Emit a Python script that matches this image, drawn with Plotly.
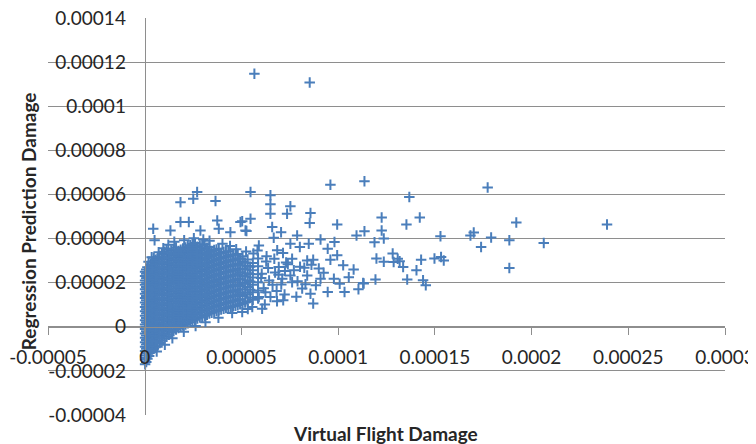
import plotly.graph_objects as go

# Values are in units of 1e-6 (micro-damage); scaled once below.
UNIT = 1e-6

# Dense cluster near the origin, read column by column
blob_col_x = [0.2, 1.4, 3.1, 4.7, 6.6, 8.9, 11.3, 13.7, 16.2, 18.6, 21.1, 23.5, 26.0,
              28.5, 31.0, 33.4, 35.9, 38.3, 40.8, 43.2, 45.7, 48.1, 50.6, 53.2, 55.9, 58.6]
blob_col_y = [
    [-17, -15, -13, -11, -9, -7, -5, -3, -1, 1, 3, 5, 7, 9, 11, 13, 15, 17, 19, 21, 23, 25],
    [-14.5, -12, -9.6, -7.4, -5, -2.7, -0.5, 1.8, 4, 6.3, 8.6, 10.9, 13.2, 15.4, 17.7, 20, 22.3, 24.6, 27],
    [-11.5, -9, -6.8, -4.4, -2, 0.3, 2.5, 4.9, 7.2, 9.6, 12, 14.3, 16.6, 19, 21.2, 23.5, 26, 28.4],
    [-10, -7.6, -5.2, -2.9, -0.6, 1.6, 3.9, 6.2, 8.6, 11, 13.3, 15.5, 17.8, 20.2, 22.5, 24.9, 27.2, 29.6, 31.3],
    [-9, -6.5, -4.1, -1.8, 0.5, 2.8, 5.1, 7.4, 9.7, 12.1, 14.4, 16.8, 19.1, 21.4, 23.7, 26, 28.3, 30.6],
    [-6.2, -3.8, -1.5, 0.9, 3.2, 5.5, 7.8, 10.1, 12.5, 14.8, 17.1, 19.4, 21.8, 24.1, 26.5, 28.8, 31.1, 33],
    [-4.5, -2.1, 0.2, 2.6, 4.9, 7.3, 9.6, 11.9, 14.2, 16.6, 18.9, 21.2, 23.6, 25.9, 28.2, 30.5, 32.8, 35],
    [-2.6, -0.3, 2, 4.4, 6.7, 9, 11.3, 13.7, 16, 18.3, 20.7, 23, 25.3, 27.7, 30, 32.3, 34.6],
    [-1.2, 1.1, 3.5, 5.8, 8.1, 10.4, 12.8, 15.1, 17.4, 19.8, 22.1, 24.4, 26.8, 29.1, 31.4, 33.7, 36],
    [0, 2.3, 4.6, 6.9, 9.3, 11.6, 13.9, 16.3, 18.6, 20.9, 23.3, 25.6, 27.9, 30.2, 32.6, 34.9],
    [1, 3.3, 5.7, 8, 10.3, 12.7, 15, 17.3, 19.6, 22, 24.3, 26.6, 29, 31.3, 33.6, 35.9],
    [2, 4.4, 6.7, 9, 11.4, 13.7, 16, 18.4, 20.7, 23, 25.4, 27.7, 30, 32.4, 34.7, 37],
    [3.2, 5.5, 7.8, 10.2, 12.5, 14.8, 17.2, 19.5, 21.8, 24.2, 26.5, 28.8, 31.2, 33.5, 35.8, 38],
    [4.2, 6.5, 8.9, 11.2, 13.5, 15.9, 18.2, 20.5, 22.9, 25.2, 27.5, 29.9, 32.2, 34.5, 36.8],
    [5, 7.4, 9.7, 12, 14.4, 16.7, 19, 21.4, 23.7, 26, 28.4, 30.7, 33, 35.3, 37.4],
    [6, 8.3, 10.7, 13, 15.3, 17.7, 20, 22.3, 24.7, 27, 29.3, 31.7, 34, 36.2],
    [6.8, 9.1, 11.5, 13.8, 16.1, 18.5, 20.8, 23.1, 25.5, 27.8, 30.1, 32.5, 34.8],
    [7.5, 9.9, 12.2, 14.5, 16.9, 19.2, 21.5, 23.9, 26.2, 28.5, 30.9, 33.2, 35.4],
    [8.2, 10.6, 12.9, 15.2, 17.6, 19.9, 22.2, 24.6, 26.9, 29.2, 31.6, 33.9],
    [8.8, 11.1, 13.5, 15.8, 18.1, 20.5, 22.8, 25.1, 27.5, 29.8, 32.1, 34.3],
    [9.3, 11.7, 14, 16.3, 18.7, 21, 23.3, 25.7, 28, 30.3, 32.7],
    [9.8, 12.2, 14.5, 16.8, 19.2, 21.5, 23.8, 26.2, 28.5, 30.8, 33],
    [10.5, 13.9, 17, 20.1, 23.2, 26.4, 29.5, 32],
    [11.6, 14.8, 18, 21.1, 24.3, 27.6, 30.5],
    [12.2, 15.6, 19, 22.3, 25.6, 28.9],
    [12.8, 16.5, 20.2, 23.8, 27.4, 31],
]

# Interleaved columns of the same dense cluster
blob2_col_x = [0.8, 2.3, 3.9, 5.6, 7.7, 10.1, 12.5, 14.9, 17.4, 19.8, 22.3, 24.7, 27.2,
               29.7, 32.2, 34.6, 37.1, 39.5, 42.0, 44.4, 46.9, 49.3, 51.9, 54.5]
blob2_col_y = [
    [-16, -14, -12, -10, -8, -6, -4, -2, 0, 2, 4, 6, 8, 10, 12, 14, 16, 18, 20, 22, 24, 26],
    [-13.2, -10.8, -8.5, -6.2, -3.8, -1.6, 0.7, 3, 5.2, 7.5, 9.8, 12.1, 14.4, 16.6, 18.9, 21.2, 23.5, 25.8],
    [-10.3, -8, -5.6, -3.3, -1, 1.3, 3.7, 6, 8.3, 10.6, 13, 15.3, 17.6, 20, 22.3, 24.6, 27, 29.5],
    [-8.8, -6.4, -4.1, -1.8, 0.5, 2.8, 5.1, 7.4, 9.7, 12, 14.4, 16.7, 19, 21.3, 23.6, 26, 28.3, 30.4],
    [-7.4, -5.2, -2.9, -0.6, 1.7, 4, 6.3, 8.6, 10.9, 13.2, 15.6, 17.9, 20.2, 22.6, 24.9, 27.2, 29.5, 31.9],
    [-5.3, -3, -0.7, 1.6, 3.9, 6.2, 8.5, 10.8, 13.1, 15.4, 17.8, 20.1, 22.4, 24.8, 27.1, 29.4, 31.7, 34],
    [-3.6, -1.3, 1, 3.3, 5.6, 7.9, 10.2, 12.5, 14.8, 17.2, 19.5, 21.8, 24.2, 26.5, 28.8, 31.2, 33.6],
    [-1.9, 0.4, 2.7, 5, 7.3, 9.6, 12, 14.3, 16.6, 19, 21.3, 23.6, 26, 28.3, 30.6, 33, 35.2],
    [-0.5, 1.8, 4.1, 6.4, 8.7, 11, 13.4, 15.7, 18, 20.4, 22.7, 25, 27.4, 29.7, 32, 34.4],
    [0.6, 2.9, 5.2, 7.5, 9.8, 12.2, 14.5, 16.8, 19.2, 21.5, 23.8, 26.2, 28.5, 30.8, 33.2, 35.5],
    [1.6, 3.9, 6.2, 8.5, 10.9, 13.2, 15.5, 17.9, 20.2, 22.5, 24.9, 27.2, 29.5, 31.9, 34.2, 36.5],
    [2.7, 5, 7.3, 9.6, 12, 14.3, 16.6, 19, 21.3, 23.6, 26, 28.3, 30.6, 33, 35.3, 37.5],
    [3.7, 6, 8.4, 10.7, 13, 15.4, 17.7, 20, 22.4, 24.7, 27, 29.4, 31.7, 34, 36.3],
    [4.6, 7, 9.3, 11.6, 14, 16.3, 18.6, 21, 23.3, 25.6, 28, 30.3, 32.6, 35, 37],
    [5.5, 7.9, 10.2, 12.5, 14.9, 17.2, 19.5, 21.9, 24.2, 26.5, 28.9, 31.2, 33.5, 35.8],
    [6.4, 8.7, 11.1, 13.4, 15.7, 18.1, 20.4, 22.7, 25.1, 27.4, 29.7, 32.1, 34.4],
    [7.1, 9.5, 11.8, 14.1, 16.5, 18.8, 21.1, 23.5, 25.8, 28.1, 30.5, 32.8, 35],
    [7.8, 10.2, 12.5, 14.8, 17.2, 19.5, 21.8, 24.2, 26.5, 28.8, 31.2, 33.5],
    [8.5, 10.8, 13.2, 15.5, 17.8, 20.2, 22.5, 24.8, 27.2, 29.5, 31.8, 34],
    [9, 11.4, 13.7, 16, 18.4, 20.7, 23, 25.4, 27.7, 30, 32.4],
    [9.5, 11.9, 14.2, 16.5, 18.9, 21.2, 23.5, 25.9, 28.2, 30.5, 32.8],
    [10.2, 12.5, 15.4, 18.5, 21.6, 24.7, 27.8, 31],
    [11, 15.5, 19.5, 22.8, 26, 29],
    [13.2, 16.8, 20.5, 23.9, 27.2],
]

# Ragged points along the edges of the dense cluster
edge_x = [2.0, 3.6, 7.2, 9.6, 12.2, 15.3, 20.4, 25.4, 30.3, 33.5, 40.2, 44.1, 47.3, 52.4,
          56.2, 58.3, 6.2, 10.4, 14.3, 20.2, 26.3, 31.4, 38.1, 45.2, 53.3, 62.1, 68.4,
          60.2, 62.4, 63.8, 66.1, 69.2, 72.3, 73.1, 76.2, 78.4, 80.3, 83.1, 86.2]
edge_y = [29.5, 31.5, 33.8, 35.6, 37.2, 38.6, 39.2, 40.1, 39.6, 39.0, 37.6, 36.6, 35.2, 34.1,
          33.2, 34.6, -11.2, -8.1, -5.2, -2.3, 0.4, 2.1, 4.1, 6.2, 8.1, 10.1, 11.6,
          22.1, 15.6, 26.6, 19.1, 23.6, 14.6, 29.1, 20.2, 13.6, 27.2, 19.3, 28.1]

# Individually readable points
scatter_x = [56.7, 85.3, 239.0, 177.3, 192.1, 179.1, 188.5, 206.3, 188.5, 173.9,
             113.6, 136.8, 122.5, 142.2, 135.3, 113.6, 122.5, 118.8, 123.6, 152.9,
             168.4, 170.1, 119.8, 123.6, 128.2, 128.7, 130.8, 131.8, 133.6, 140.5,
             142.9, 149.8, 153.2, 154.6, 113.2, 119.3, 135.7, 143.9, 145.3,
             54.7, 65.0, 65.0, 65.0, 75.3, 73.6, 85.7, 85.3, 99.5, 96.0,
             54.7, 50.4, 65.9, 70.5, 52.6, 109.5, 66.7, 78.8, 90.9, 98.1,
             84.8, 75.3, 80.2, 59.0, 68.5, 94.6, 99.5, 96.0, 102.6, 76.2,
             84.0, 87.1, 90.0, 77.1, 69.3, 71.1, 81.4, 85.7, 87.1, 94.6,
             103.3, 71.6, 65.0, 59.0, 60.7, 55.6, 50.4, 112.9, 97.8, 90.9,
             84.0, 75.3,
             18.5, 25.1, 27.1, 36.6, 4.4, 5.1, 13.3, 18.5, 22.8, 28.8,
             37.5, 38.3, 44.3, 49.5, 52.1,
             61.5, 64.3, 67.4, 70.6, 74.0, 62.8, 68.2, 72.5, 79.0, 82.5,
             63.0, 67.0, 71.5, 60.5, 88.5, 92.5, 105.5, 108.0, 110.5, 100.8]
scatter_y = [114.7, 110.8, 46.4, 63.1, 47.3, 40.5, 39.2, 38.0, 26.6, 36.2,
             66.0, 58.8, 49.5, 49.5, 46.4, 43.3, 43.7, 38.3, 40.0, 41.0,
             41.4, 42.7, 31.0, 29.5, 33.2, 29.4, 30.9, 29.7, 27.1, 25.6,
             30.4, 31.0, 31.6, 30.1, 19.6, 21.4, 21.4, 21.1, 18.8,
             61.1, 59.6, 55.5, 51.3, 54.6, 51.3, 51.6, 47.0, 46.4, 64.4,
             49.0, 47.9, 45.2, 42.9, 43.4, 41.4, 40.4, 41.4, 39.6, 38.4,
             37.7, 37.7, 36.2, 36.9, 34.7, 35.4, 32.4, 30.4, 27.9, 30.9,
             30.1, 30.4, 26.4, 25.6, 27.1, 21.8, 17.3, 15.0, 10.5, 15.8,
             15.8, 12.0, 13.5, 13.5, 8.2, 9.0, 6.7, 19.8, 21.8, 21.8,
             23.3, 23.3,
             56.5, 58.1, 61.1, 57.0, 44.5, 39.2, 43.7, 47.5, 47.5, 43.7,
             48.2, 44.5, 42.9, 47.5, 43.7,
             17.5, 21.0, 24.6, 19.2, 28.4, 29.6, 16.2, 25.3, 20.6, 26.8,
             32.0, 30.8, 33.5, 24.0, 18.8, 24.5, 22.5, 26.0, 17.0, 19.5]

# Axis ticks
x_tick_vals = [-0.00005, 0, 0.00005, 0.0001, 0.00015, 0.0002, 0.00025, 0.0003]
x_tick_text = ["-0.00005", "0", "0.00005", "0.0001", "0.00015", "0.0002", "0.00025", "0.0003"]
y_tick_vals = [-0.00004, -0.00002, 0, 0.00002, 0.00004, 0.00006, 0.00008, 0.0001, 0.00012, 0.00014]
y_tick_text = ["-0.00004", "-0.00002", "0", "0.00002", "0.00004", "0.00006", "0.00008",
               "0.0001", "0.00012", "0.00014"]

x_title = "Virtual Flight Damage"
y_title = "Regression Prediction Damage"

# Flatten and scale
xs, ys = [], []
for cols_x, cols_y in ((blob_col_x, blob_col_y), (blob2_col_x, blob2_col_y)):
    for cx, col in zip(cols_x, cols_y):
        for v in col:
            xs.append(cx * UNIT)
            ys.append(v * UNIT)
for px_, py_ in ((edge_x, edge_y), (scatter_x, scatter_y)):
    for a, b in zip(px_, py_):
        xs.append(a * UNIT)
        ys.append(b * UNIT)

XMIN, XMAX = -0.00005, 0.0003
YMIN, YMAX = -0.00004, 0.00014
BLUE = "#4A7EBB"
GRID = "#8E8E8E"
FONT = "Lato"

fig = go.Figure()
fig.add_trace(go.Scatter(
    x=xs, y=ys, mode="markers",
    marker=dict(symbol="cross-thin", size=7.5, color=BLUE,
                line=dict(width=2, color=BLUE)),
    hoverinfo="skip", showlegend=False,
))

# The page body adds an 8px offset, so the figure is 8px smaller and margins compensate.
fig.update_layout(
    width=748, height=436,
    margin=dict(l=40, r=31, t=10, b=29, pad=0, autoexpand=False),
    paper_bgcolor="white", plot_bgcolor="white",
    font=dict(family=FONT, size=19, color="#262626"),
    xaxis=dict(
        range=[XMIN - 1e-10, XMAX + 1e-10],
        anchor="free", position=(0 - YMIN) / (YMAX - YMIN),
        automargin=False,
        showgrid=False, zeroline=False,
        showline=True, linecolor=GRID, linewidth=1,
        ticks="outside", ticklen=7, tickcolor=GRID, tickwidth=1,
        tickvals=x_tick_vals, ticktext=x_tick_text,
        ticklabelstandoff=6, ticklabeloverflow="allow",
    ),
    yaxis=dict(
        range=[YMIN - 1e-10, YMAX + 1e-10],
        anchor="free", position=(0 - XMIN) / (XMAX - XMIN),
        automargin=False,
        showgrid=True, gridcolor=GRID, gridwidth=1,
        zeroline=False,
        showline=True, linecolor=GRID, linewidth=1,
        ticks="", tickvals=y_tick_vals, ticktext=y_tick_text,
        ticklabelstandoff=15, ticklabeloverflow="allow",
    ),
    annotations=[
        dict(text="<b>" + x_title + "</b>", xref="paper", yref="paper",
             x=0.499, y=0, xanchor="center", yanchor="middle", yshift=-18,
             showarrow=False, font=dict(family=FONT, size=19, color="#262626")),
        dict(text="<b>" + y_title + "</b>", xref="paper", yref="paper",
             x=0, y=0.488, xanchor="center", yanchor="middle", xshift=-20,
             textangle=-90, showarrow=False,
             font=dict(family=FONT, size=19, color="#262626")),
    ],
)

fig.write_html("out.html")
